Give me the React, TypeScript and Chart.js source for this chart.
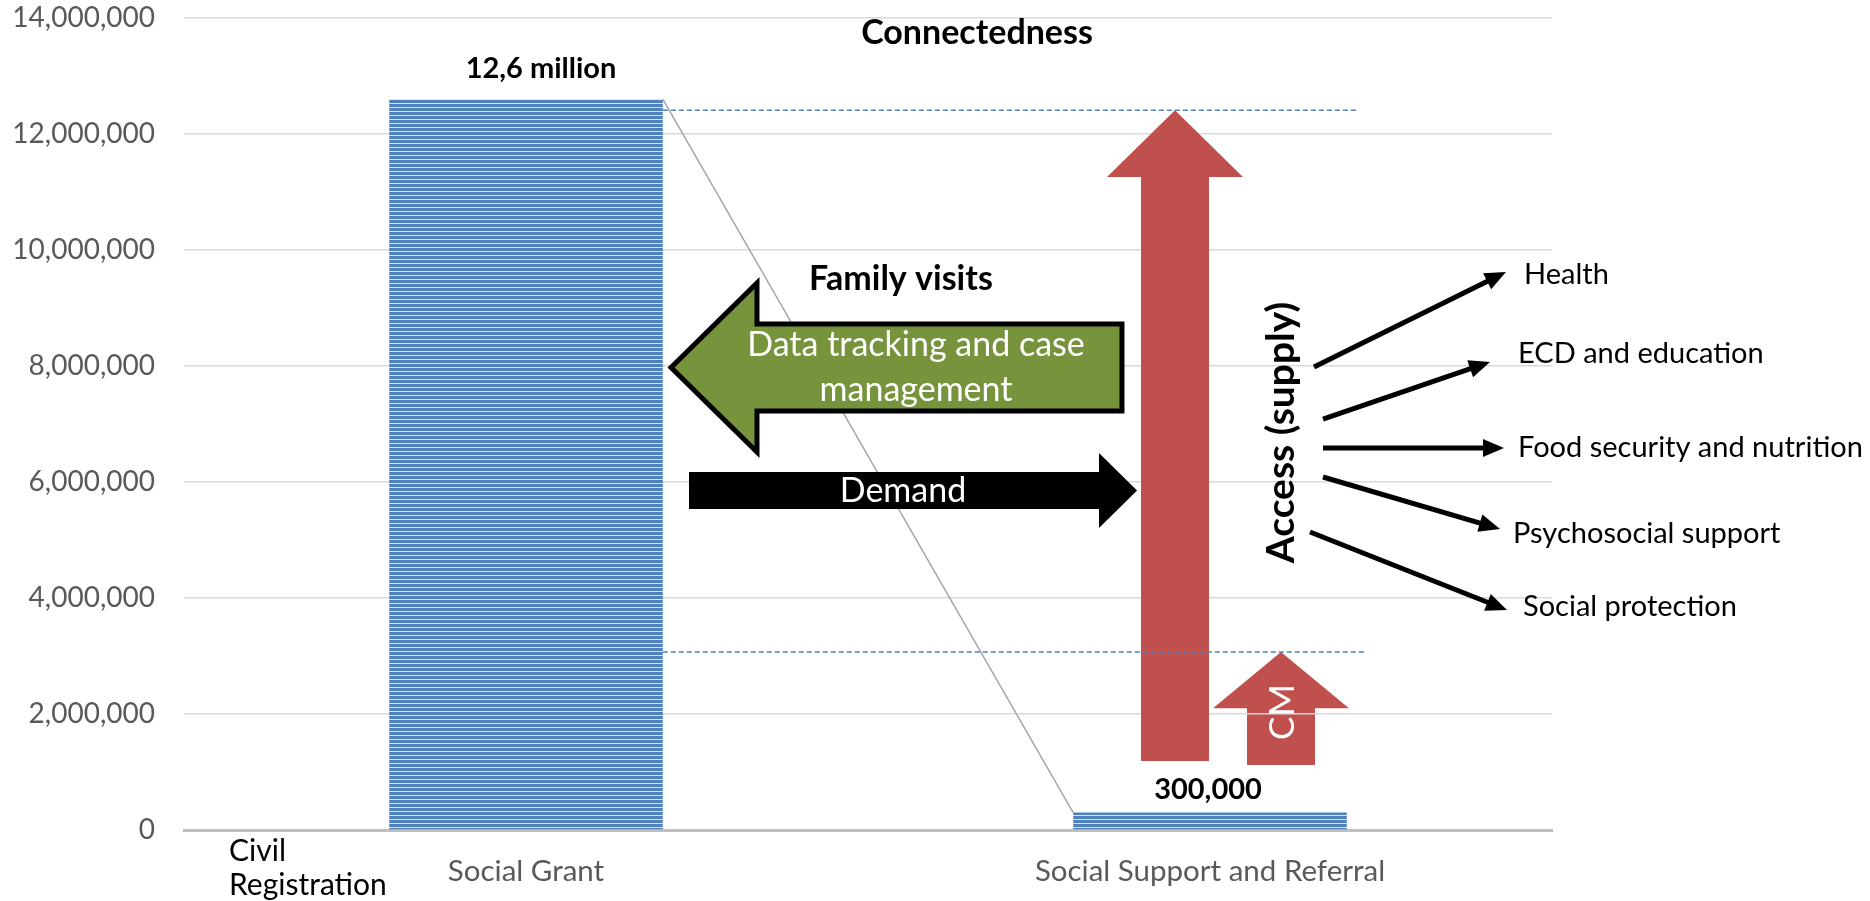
import React, { useEffect, useRef } from 'react';
import { Chart, registerables } from 'chart.js';

Chart.register(...registerables);

// ---------- data ----------
const categories = ['Social Grant', 'Social Support and Referral'];
const beneficiaries = [12600000, 300000];
const valueLabels = ['12,6 million', '300,000'];
const yMin = 0;
const yMax = 14000000;
const yStep = 2000000;
// dashed guide levels (value) and where they end (category units)
const guideLevels = [12410000, 3070000];
const guideEnds = [1.2135, 1.228];
const sideCategory = ['Civil', 'Registration'];
const serviceLabels = ['Health', 'ECD and education', 'Food security and nutrition', 'Psychosocial support', 'Social protection'];

// ---------- annotation layout (category-index units / values) ----------
const supplyArrow = { x: 0.9488, tip: 12410000, headBase: 11260000, tail: 1190000, shaftHalf: 0.0497, headHalf: 0.0994 };
const cmArrow = { x: 1.1038, tip: 3070000, headBase: 2100000, tail: 1120000, shaftHalf: 0.0497, headHalf: 0.0994 };
const trackingArrow = { y: 7974000, tip: 0.212, headBase: 0.3377, tail: 0.8713, shaftHalf: 750000, headHalf: 1457000 };
const demandArrow = { y: 5853000, tip: 0.8933, headBase: 0.8377, tail: 0.2383, shaftHalf: 319000, headHalf: 647000 };
const serviceArrows = [
  [1.152, 7983000, 1.4327, 9621000],
  [1.1652, 7086000, 1.4094, 8069000],
  [1.1652, 6586000, 1.4298, 6586000],
  [1.1652, 6086000, 1.424, 5190000],
  [1.1462, 5138000, 1.4342, 3793000],
];
const serviceLabelPos = [
  [1.4591, 9569000],
  [1.4503, 8207000],
  [1.4503, 6586000],
  [1.443, 5103000],
  [1.4576, 3845000],
];

const FONT = 'Lato, "Open Sans", sans-serif';
const GRAY = '#595959';

function stripes(ctx: CanvasRenderingContext2D) {
  const c = document.createElement('canvas');
  c.width = 4;
  c.height = 4;
  const g = c.getContext('2d')!;
  g.fillStyle = '#4f81bd';
  g.fillRect(0, 0, 4, 4);
  g.fillStyle = '#d6e1f0';
  g.fillRect(0, 3, 4, 1);
  return ctx.createPattern(c, 'repeat');
}

export default function App() {
  const ref = useRef<HTMLCanvasElement | null>(null);

  useEffect(() => {
    let chart: Chart | null = null;
    let cancelled = false;
    const canvas = ref.current!;
    const ctx0 = canvas.getContext('2d')!;

    const overlay = {
      id: 'overlay',
      beforeDraw(chart: any) {
        const ctx = chart.ctx;
        const X = (u: number) => chart.scales.x.getPixelForValue(u);
        const Y = (v: number) => chart.scales.y.getPixelForValue(v);
        drawUp(ctx, X, Y, cmArrow, '#c0504d');
      },
      afterDatasetsDraw(chart: any) {
        const ctx = chart.ctx;
        const meta = chart.getDatasetMeta(0);
        const b0 = meta.data[0] as any;
        const b1 = meta.data[1] as any;
        ctx.save();
        ctx.strokeStyle = '#a6a6a6';
        ctx.lineWidth = 1.5;
        ctx.beginPath();
        ctx.moveTo(b0.x + b0.width / 2, b0.y);
        ctx.lineTo(b1.x - b1.width / 2, b1.y);
        ctx.stroke();
        ctx.restore();
      },
      afterDraw(chart: any) {
        const ctx = chart.ctx;
        const X = (u: number) => chart.scales.x.getPixelForValue(u);
        const Y = (v: number) => chart.scales.y.getPixelForValue(v);
        const meta = chart.getDatasetMeta(0);
        const b0 = meta.data[0] as any;

        drawUp(ctx, X, Y, supplyArrow, '#c0504d');

        // dashed guides
        ctx.save();
        ctx.strokeStyle = '#4f81bd';
        ctx.lineWidth = 1.5;
        ctx.setLineDash([5, 3]);
        guideLevels.forEach((lv, i) => {
          ctx.beginPath();
          ctx.moveTo(b0.x + b0.width / 2, Y(lv));
          ctx.lineTo(X(guideEnds[i]), Y(lv));
          ctx.stroke();
        });
        ctx.restore();

        drawHoriz(ctx, X, Y, trackingArrow, '#77933c', '#000', 5);
        drawHoriz(ctx, X, Y, demandArrow, '#000', null, 0);

        // service arrows
        serviceArrows.forEach(([u1, v1, u2, v2]) => {
          thinArrow(ctx, X(u1), Y(v1), X(u2), Y(v2));
        });

        // texts
        const text = (s: string, x: number, y: number, font: string, color: string, align: CanvasTextAlign = 'center', rot = 0) => {
          ctx.save();
          ctx.font = font;
          ctx.fillStyle = color;
          ctx.textAlign = align;
          ctx.textBaseline = 'middle';
          ctx.translate(x, y);
          if (rot) ctx.rotate(rot);
          ctx.fillText(s, 0, 0);
          ctx.restore();
        };

        text('Connectedness', X(0.6594), Y(13741000), `bold 34px ${FONT}`, '#000');
        text('Family visits', X(0.5482), Y(9500000), `bold 34px ${FONT}`, '#000');
        text('Data tracking and case', X(0.5702), Y(8362000), `34px ${FONT}`, '#fff');
        text('management', X(0.5702), Y(7586000), `34px ${FONT}`, '#fff');
        text('Demand', X(0.5512), Y(5845000), `34px ${FONT}`, '#fff');
        text('Access (supply)', X(1.1038), Y(6853000), `bold 39px ${FONT}`, '#000', 'center', -Math.PI / 2);
        text('CM', X(1.1067), Y(2034000), `35px ${FONT}`, '#fff', 'center', -Math.PI / 2);

        const nudgeX = [15, -2];
        const lift = [31, 23];
        meta.data.forEach((b: any, i: number) => {
          text(valueLabels[i], b.x + nudgeX[i], b.y - lift[i], `bold 29px ${FONT}`, '#000');
        });

        serviceLabels.forEach((s, i) => {
          text(s, X(serviceLabelPos[i][0]), Y(serviceLabelPos[i][1]), `29px ${FONT}`, '#000', 'left');
        });

        text(sideCategory[0], X(-0.4342), Y(-360000), `30px ${FONT}`, '#000', 'left');
        text(sideCategory[1], X(-0.4342), Y(-960000), `30px ${FONT}`, '#000', 'left');
      },
    };

    function drawUp(ctx: any, X: any, Y: any, a: any, fill: string) {
      const cx = X(a.x);
      const sh = X(a.x + a.shaftHalf) - cx;
      const hh = X(a.x + a.headHalf) - cx;
      ctx.save();
      ctx.fillStyle = fill;
      ctx.beginPath();
      ctx.moveTo(cx - sh, Y(a.tail));
      ctx.lineTo(cx - sh, Y(a.headBase));
      ctx.lineTo(cx - hh, Y(a.headBase));
      ctx.lineTo(cx, Y(a.tip));
      ctx.lineTo(cx + hh, Y(a.headBase));
      ctx.lineTo(cx + sh, Y(a.headBase));
      ctx.lineTo(cx + sh, Y(a.tail));
      ctx.closePath();
      ctx.fill();
      ctx.restore();
    }

    function drawHoriz(ctx: any, X: any, Y: any, a: any, fill: string, stroke: string | null, lw: number) {
      const cy = Y(a.y);
      const sh = cy - Y(a.y + a.shaftHalf);
      const hh = cy - Y(a.y + a.headHalf);
      const tail = X(a.tail);
      const hb = X(a.headBase);
      const tip = X(a.tip);
      ctx.save();
      ctx.beginPath();
      ctx.moveTo(tail, cy - sh);
      ctx.lineTo(hb, cy - sh);
      ctx.lineTo(hb, cy - hh);
      ctx.lineTo(tip, cy);
      ctx.lineTo(hb, cy + hh);
      ctx.lineTo(hb, cy + sh);
      ctx.lineTo(tail, cy + sh);
      ctx.closePath();
      ctx.fillStyle = fill;
      ctx.fill();
      if (stroke) {
        ctx.strokeStyle = stroke;
        ctx.lineWidth = lw;
        ctx.lineJoin = 'miter';
        ctx.stroke();
      }
      ctx.restore();
    }

    function thinArrow(ctx: any, x1: number, y1: number, x2: number, y2: number) {
      const ang = Math.atan2(y2 - y1, x2 - x1);
      const hl = 21;
      const hw = 9;
      const bx = x2 - hl * Math.cos(ang);
      const by = y2 - hl * Math.sin(ang);
      ctx.save();
      ctx.strokeStyle = '#000';
      ctx.fillStyle = '#000';
      ctx.lineWidth = 5;
      ctx.beginPath();
      ctx.moveTo(x1, y1);
      ctx.lineTo(bx + 2 * Math.cos(ang), by + 2 * Math.sin(ang));
      ctx.stroke();
      ctx.beginPath();
      ctx.moveTo(x2, y2);
      ctx.lineTo(bx - hw * Math.sin(ang), by + hw * Math.cos(ang));
      ctx.lineTo(bx + hw * Math.sin(ang), by - hw * Math.cos(ang));
      ctx.closePath();
      ctx.fill();
      ctx.restore();
    }

    const build = () => {
      if (cancelled) return;
      chart = new Chart(canvas, {
        type: 'bar',
        data: {
          labels: categories,
          datasets: [
            {
              data: beneficiaries,
              backgroundColor: stripes(ctx0) as any,
              borderWidth: 0,
              barPercentage: 0.4,
              categoryPercentage: 1,
            },
          ],
        },
        options: {
          animation: false,
          responsive: false,
          maintainAspectRatio: false,
          events: [],
          layout: { padding: { top: 18, right: 318, left: 0, bottom: 0 } },
          plugins: {
            legend: { display: false },
            tooltip: { enabled: false },
            title: { display: false },
          },
          scales: {
            x: {
              grid: { display: false, drawTicks: false },
              border: { display: true, color: '#bfbfbf', width: 3 },
              ticks: {
                color: GRAY,
                font: { family: FONT, size: 29.5 },
                padding: 24,
                maxRotation: 0,
                autoSkip: false,
              },
              afterFit: (s: any) => {
                s.height = 71;
                s.paddingLeft = 0;
                s.paddingRight = 0;
              },
            },
            y: {
              min: yMin,
              max: yMax,
              ticks: {
                stepSize: yStep,
                color: GRAY,
                font: { family: FONT, size: 28 },
                padding: 29,
                callback: (v: any) => Number(v).toLocaleString('en-US'),
              },
              grid: { color: '#d9d9d9', lineWidth: 1.5, drawTicks: false },
              border: { display: false },
              afterFit: (s: any) => {
                s.width = 184;
                s.paddingTop = 0;
                s.paddingBottom = 0;
              },
            },
          },
        },
        plugins: [overlay],
      });
    };

    const fonts = (document as any).fonts;
    if (fonts && fonts.load) {
      Promise.all([fonts.load(`30px Lato`), fonts.load(`bold 30px Lato`)])
        .catch(() => null)
        .then(build);
    } else {
      build();
    }

    return () => {
      cancelled = true;
      if (chart) chart.destroy();
    };
  }, []);

  return (
    <div style={{ position: 'fixed', left: 0, top: 0, width: 1870, height: 901, background: '#fff' }}>
      <canvas ref={ref} width={1870} height={901} style={{ display: 'block', width: 1870, height: 901 }} />
    </div>
  );
}
